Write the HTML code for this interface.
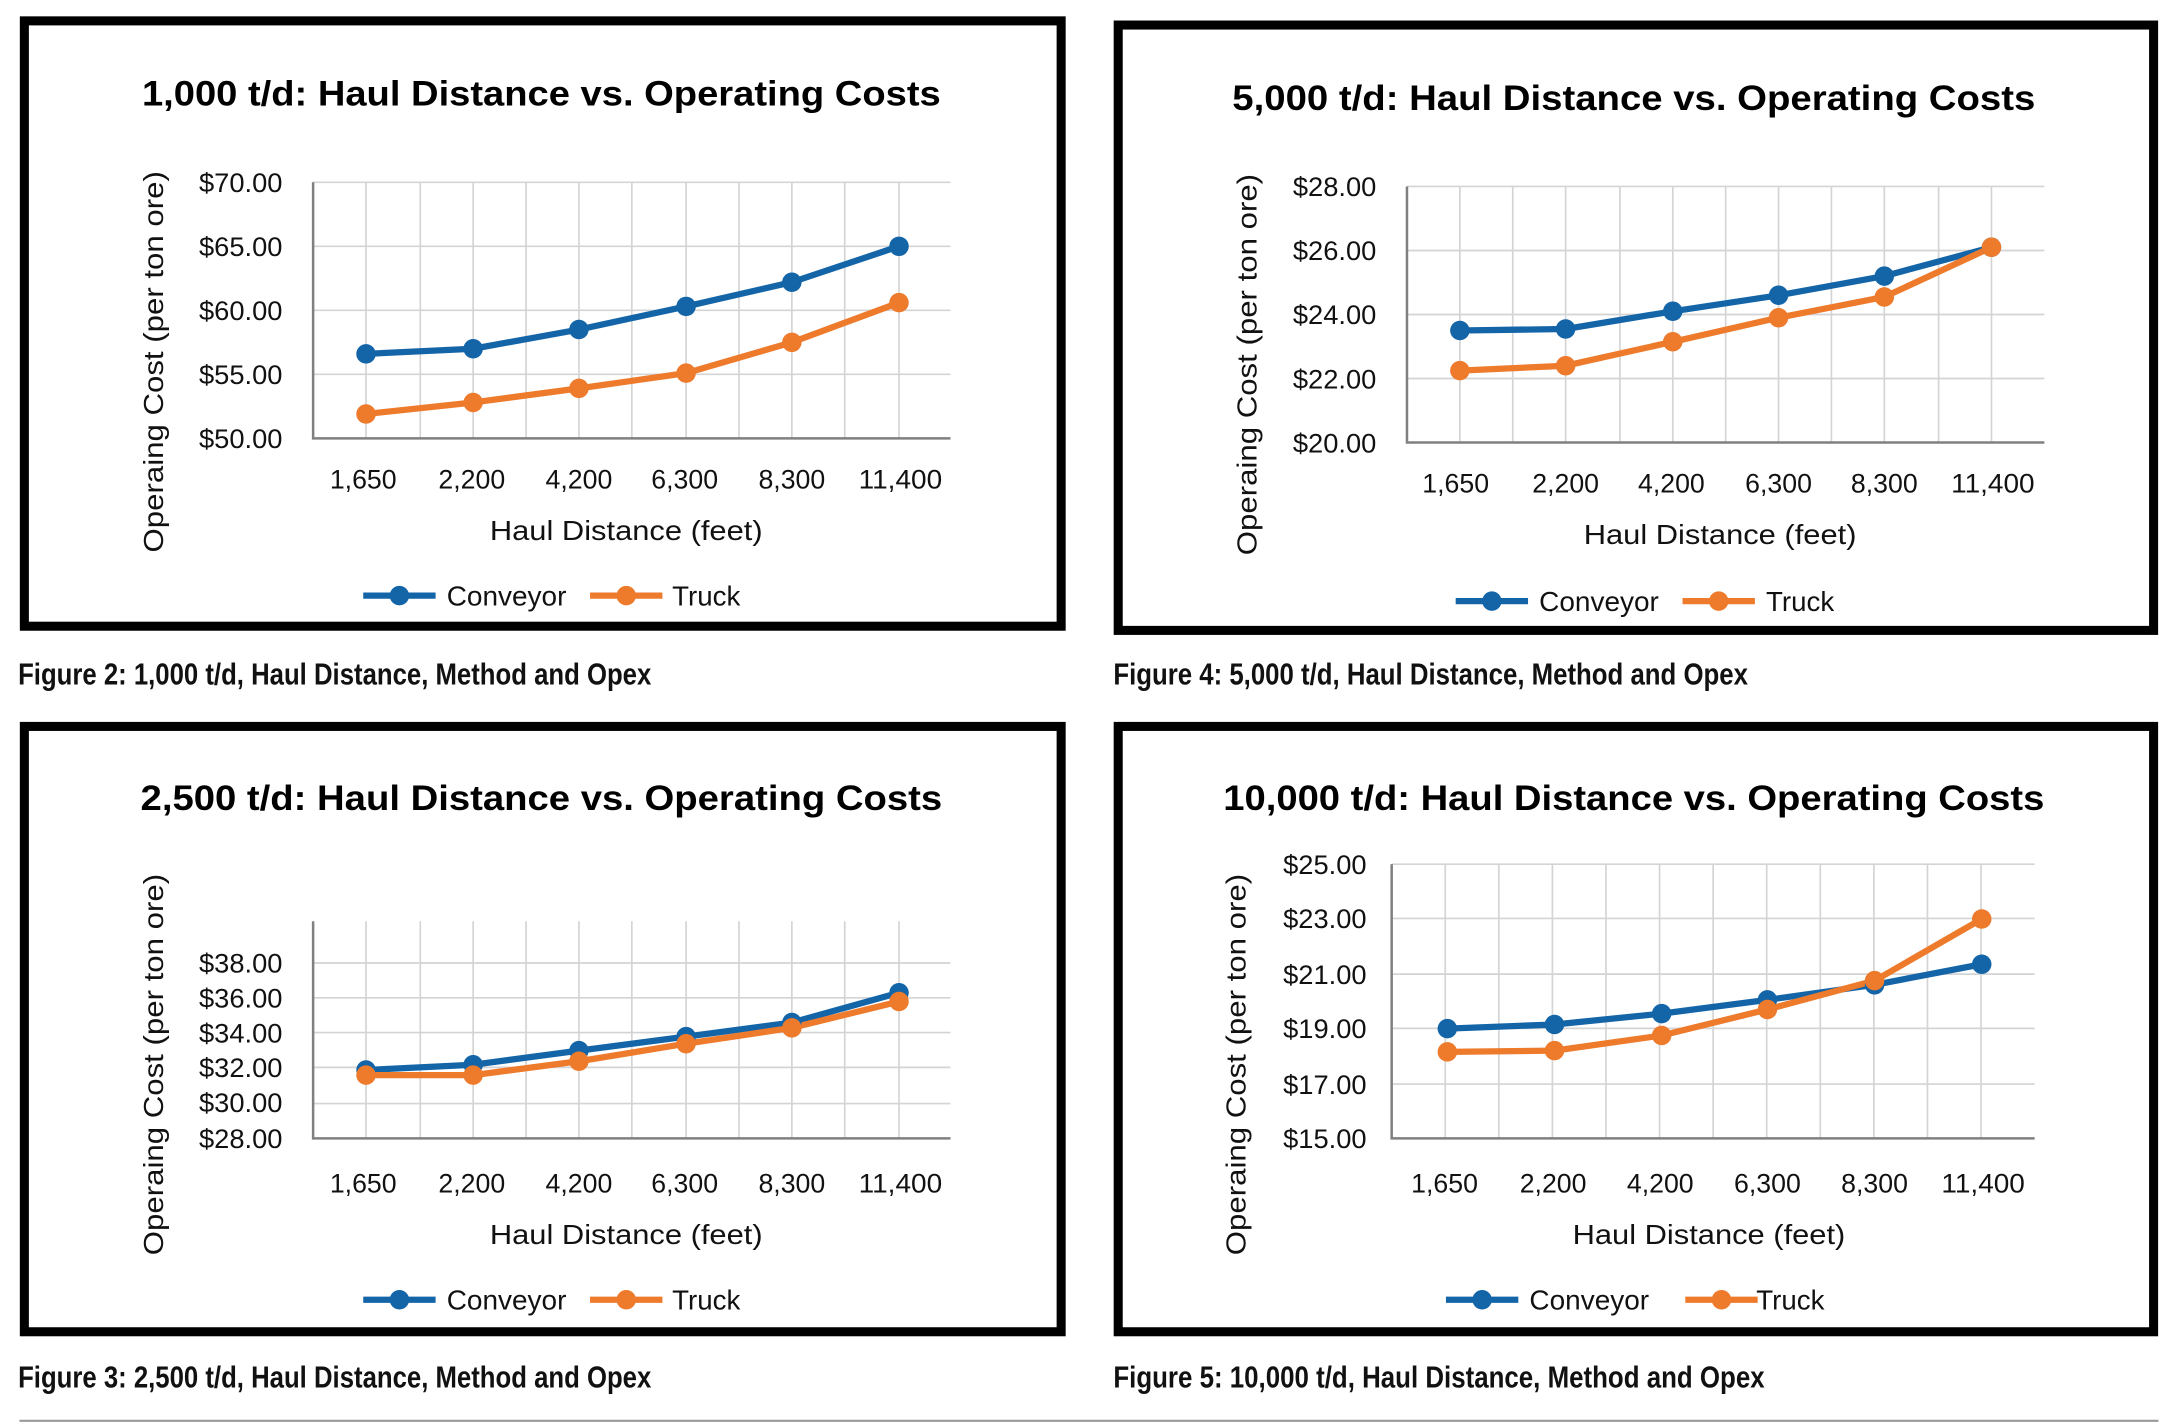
<!DOCTYPE html>
<html><head><meta charset="utf-8">
<style>
html,body{margin:0;padding:0;background:#fff;}
svg{display:block;}
.t{font-family:"Liberation Sans",sans-serif;font-weight:bold;font-size:25px;fill:#000;}
.k{font-family:"Liberation Sans",sans-serif;font-size:19px;fill:#111;}
.a{font-family:"Liberation Sans",sans-serif;font-size:20px;fill:#111;}
.c{font-family:"Liberation Sans",sans-serif;font-weight:bold;font-size:22px;fill:#111;}
.g{stroke:#d4d4d4;stroke-width:1.2;fill:none;}
.ax{stroke:#808080;stroke-width:1.8;fill:none;}
.b{stroke:#1465a8;stroke-width:4.5;fill:none;stroke-linejoin:round;}
.o{stroke:#ee7a2b;stroke-width:4.5;fill:none;stroke-linejoin:round;}
.bm{fill:#1465a8;}
.om{fill:#ee7a2b;}
.f{fill:none;stroke:#000;stroke-width:6.5;}
</style></head><body>
<svg width="2171" height="1425" viewBox="0 0 1560 1024" preserveAspectRatio="none" xmlns="http://www.w3.org/2000/svg">
<rect x="0" y="0" width="1560" height="1024" fill="#fff"/>

<!-- ===== Chart 1 ===== -->
<rect class="f" x="17.5" y="15" width="745" height="435"/>
<text class="t" x="389" y="76" text-anchor="middle" textLength="574" lengthAdjust="spacingAndGlyphs">1,000 t/d: Haul Distance vs. Operating Costs</text>
<g class="g">
<path d="M225 131H683M225 177H683M225 223H683M225 269H683"/>
<path d="M263 131V315M302 131V315M340 131V315M378 131V315M416 131V315M454 131V315M493 131V315M531 131V315M569 131V315M607 131V315M646 131V315"/>
</g>
<path class="ax" d="M225 131V315H683"/>
<g class="k" text-anchor="end" lengthAdjust="spacingAndGlyphs">
<text x="203" y="138" textLength="60" lengthAdjust="spacingAndGlyphs">$70.00</text><text x="203" y="184" textLength="60" lengthAdjust="spacingAndGlyphs">$65.00</text><text x="203" y="230" textLength="60" lengthAdjust="spacingAndGlyphs">$60.00</text><text x="203" y="276" textLength="60" lengthAdjust="spacingAndGlyphs">$55.00</text><text x="203" y="322" textLength="60" lengthAdjust="spacingAndGlyphs">$50.00</text>
</g>
<g class="k" text-anchor="middle">
<text x="261" y="351" textLength="48" lengthAdjust="spacingAndGlyphs">1,650</text><text x="339" y="351" textLength="48" lengthAdjust="spacingAndGlyphs">2,200</text><text x="416" y="351" textLength="48" lengthAdjust="spacingAndGlyphs">4,200</text><text x="492" y="351" textLength="48" lengthAdjust="spacingAndGlyphs">6,300</text><text x="569" y="351" textLength="48" lengthAdjust="spacingAndGlyphs">8,300</text><text x="647" y="351" textLength="60" lengthAdjust="spacingAndGlyphs">11,400</text>
</g>
<text class="a" x="450" y="388" text-anchor="middle" textLength="196" lengthAdjust="spacingAndGlyphs">Haul Distance (feet)</text>
<text class="a" transform="translate(117,260) rotate(-90)" text-anchor="middle" textLength="274" lengthAdjust="spacingAndGlyphs">Operaing Cost (per ton ore)</text>
<polyline class="b" points="263,254.3 340,250.6 416,236.8 493,220.2 569,202.8 646,177"/>
<polyline class="o" points="263,297.5 340,289.2 416,279.1 493,268.1 569,246 646,217.5"/>
<g class="bm"><circle cx="263" cy="254.3" r="7"/><circle cx="340" cy="250.6" r="7"/><circle cx="416" cy="236.8" r="7"/><circle cx="493" cy="220.2" r="7"/><circle cx="569" cy="202.8" r="7"/><circle cx="646" cy="177" r="7"/></g>
<g class="om"><circle cx="263" cy="297.5" r="7"/><circle cx="340" cy="289.2" r="7"/><circle cx="416" cy="279.1" r="7"/><circle cx="493" cy="268.1" r="7"/><circle cx="569" cy="246" r="7"/><circle cx="646" cy="217.5" r="7"/></g>
<path class="b" d="M261 428H313"/><circle class="bm" cx="287" cy="428" r="7"/>
<text class="a" x="321" y="435" textLength="86" lengthAdjust="spacingAndGlyphs">Conveyor</text>
<path class="o" d="M424 428H476"/><circle class="om" cx="450" cy="428" r="7"/>
<text class="a" x="483" y="435" textLength="49" lengthAdjust="spacingAndGlyphs">Truck</text>
<text class="c" x="13" y="492" textLength="455" lengthAdjust="spacingAndGlyphs">Figure 2: 1,000 t/d, Haul Distance, Method and Opex</text>

<!-- ===== Chart 2 (5,000) ===== -->
<rect class="f" x="803.5" y="18" width="744" height="435"/>
<text class="t" x="1174" y="79" text-anchor="middle" textLength="577" lengthAdjust="spacingAndGlyphs">5,000 t/d: Haul Distance vs. Operating Costs</text>
<g class="g">
<path d="M1011 134H1469M1011 180H1469M1011 226H1469M1011 272H1469"/>
<path d="M1049 134V318M1087 134V318M1125 134V318M1164 134V318M1202 134V318M1240 134V318M1278 134V318M1316 134V318M1354 134V318M1393 134V318M1431 134V318"/>
</g>
<path class="ax" d="M1011 134V318H1469"/>
<g class="k" text-anchor="end">
<text x="989" y="141" textLength="60" lengthAdjust="spacingAndGlyphs">$28.00</text><text x="989" y="187" textLength="60" lengthAdjust="spacingAndGlyphs">$26.00</text><text x="989" y="233" textLength="60" lengthAdjust="spacingAndGlyphs">$24.00</text><text x="989" y="279" textLength="60" lengthAdjust="spacingAndGlyphs">$22.00</text><text x="989" y="325" textLength="60" lengthAdjust="spacingAndGlyphs">$20.00</text>
</g>
<g class="k" text-anchor="middle">
<text x="1046" y="354" textLength="48" lengthAdjust="spacingAndGlyphs">1,650</text><text x="1125" y="354" textLength="48" lengthAdjust="spacingAndGlyphs">2,200</text><text x="1201" y="354" textLength="48" lengthAdjust="spacingAndGlyphs">4,200</text><text x="1278" y="354" textLength="48" lengthAdjust="spacingAndGlyphs">6,300</text><text x="1354" y="354" textLength="48" lengthAdjust="spacingAndGlyphs">8,300</text><text x="1432" y="354" textLength="60" lengthAdjust="spacingAndGlyphs">11,400</text>
</g>
<text class="a" x="1236" y="391" text-anchor="middle" textLength="196" lengthAdjust="spacingAndGlyphs">Haul Distance (feet)</text>
<text class="a" transform="translate(903,262) rotate(-90)" text-anchor="middle" textLength="274" lengthAdjust="spacingAndGlyphs">Operaing Cost (per ton ore)</text>
<polyline class="b" points="1049,237.5 1125,236.4 1202,223.7 1278,212.2 1354,198.4 1431,177.7"/>
<polyline class="o" points="1049,266.3 1125,262.8 1202,245.6 1278,228.3 1354,213.4 1431,177.7"/>
<g class="bm"><circle cx="1049" cy="237.5" r="7"/><circle cx="1125" cy="236.4" r="7"/><circle cx="1202" cy="223.7" r="7"/><circle cx="1278" cy="212.2" r="7"/><circle cx="1354" cy="198.4" r="7"/><circle cx="1431" cy="177.7" r="7"/></g>
<g class="om"><circle cx="1049" cy="266.3" r="7"/><circle cx="1125" cy="262.8" r="7"/><circle cx="1202" cy="245.6" r="7"/><circle cx="1278" cy="228.3" r="7"/><circle cx="1354" cy="213.4" r="7"/><circle cx="1431" cy="177.7" r="7"/></g>
<path class="b" d="M1046 432H1098"/><circle class="bm" cx="1072" cy="432" r="7"/>
<text class="a" x="1106" y="439" textLength="86" lengthAdjust="spacingAndGlyphs">Conveyor</text>
<path class="o" d="M1209 432H1261"/><circle class="om" cx="1235" cy="432" r="7"/>
<text class="a" x="1269" y="439" textLength="49" lengthAdjust="spacingAndGlyphs">Truck</text>
<text class="c" x="800" y="492" textLength="456" lengthAdjust="spacingAndGlyphs">Figure 4: 5,000 t/d, Haul Distance, Method and Opex</text>

<!-- ===== Chart 3 (2,500) ===== -->
<rect class="f" x="17.5" y="522" width="745" height="435"/>
<text class="t" x="389" y="582" text-anchor="middle" textLength="576" lengthAdjust="spacingAndGlyphs">2,500 t/d: Haul Distance vs. Operating Costs</text>
<g class="g">
<path d="M225 692H683M225 717H683M225 742H683M225 767H683M225 793H683"/>
<path d="M263 662V818M302 662V818M340 662V818M378 662V818M416 662V818M454 662V818M493 662V818M531 662V818M569 662V818M607 662V818M646 662V818"/>
</g>
<path class="ax" d="M225 662V818H683"/>
<g class="k" text-anchor="end">
<text x="203" y="699" textLength="60" lengthAdjust="spacingAndGlyphs">$38.00</text><text x="203" y="724" textLength="60" lengthAdjust="spacingAndGlyphs">$36.00</text><text x="203" y="749" textLength="60" lengthAdjust="spacingAndGlyphs">$34.00</text><text x="203" y="774" textLength="60" lengthAdjust="spacingAndGlyphs">$32.00</text><text x="203" y="799" textLength="60" lengthAdjust="spacingAndGlyphs">$30.00</text><text x="203" y="825" textLength="60" lengthAdjust="spacingAndGlyphs">$28.00</text>
</g>
<g class="k" text-anchor="middle">
<text x="261" y="857" textLength="48" lengthAdjust="spacingAndGlyphs">1,650</text><text x="339" y="857" textLength="48" lengthAdjust="spacingAndGlyphs">2,200</text><text x="416" y="857" textLength="48" lengthAdjust="spacingAndGlyphs">4,200</text><text x="492" y="857" textLength="48" lengthAdjust="spacingAndGlyphs">6,300</text><text x="569" y="857" textLength="48" lengthAdjust="spacingAndGlyphs">8,300</text><text x="647" y="857" textLength="60" lengthAdjust="spacingAndGlyphs">11,400</text>
</g>
<text class="a" x="450" y="894" text-anchor="middle" textLength="196" lengthAdjust="spacingAndGlyphs">Haul Distance (feet)</text>
<text class="a" transform="translate(117,765) rotate(-90)" text-anchor="middle" textLength="274" lengthAdjust="spacingAndGlyphs">Operaing Cost (per ton ore)</text>
<polyline class="b" points="263,768.9 340,765.1 416,755 493,744.9 569,734.8 646,713.4"/>
<polyline class="o" points="263,772.6 340,772.6 416,762.6 493,750 569,738.6 646,719.7"/>
<g class="bm"><circle cx="263" cy="768.9" r="7"/><circle cx="340" cy="765.1" r="7"/><circle cx="416" cy="755" r="7"/><circle cx="493" cy="744.9" r="7"/><circle cx="569" cy="734.8" r="7"/><circle cx="646" cy="713.4" r="7"/></g>
<g class="om"><circle cx="263" cy="772.6" r="7"/><circle cx="340" cy="772.6" r="7"/><circle cx="416" cy="762.6" r="7"/><circle cx="493" cy="750" r="7"/><circle cx="569" cy="738.6" r="7"/><circle cx="646" cy="719.7" r="7"/></g>
<path class="b" d="M261 934H313"/><circle class="bm" cx="287" cy="934" r="7"/>
<text class="a" x="321" y="941" textLength="86" lengthAdjust="spacingAndGlyphs">Conveyor</text>
<path class="o" d="M424 934H476"/><circle class="om" cx="450" cy="934" r="7"/>
<text class="a" x="483" y="941" textLength="49" lengthAdjust="spacingAndGlyphs">Truck</text>
<text class="c" x="13" y="997" textLength="455" lengthAdjust="spacingAndGlyphs">Figure 3: 2,500 t/d, Haul Distance, Method and Opex</text>

<!-- ===== Chart 4 (10,000) ===== -->
<rect class="f" x="803.5" y="522" width="744" height="435"/>
<text class="t" x="1174" y="582" text-anchor="middle" textLength="590" lengthAdjust="spacingAndGlyphs">10,000 t/d: Haul Distance vs. Operating Costs</text>
<g class="g">
<path d="M1000 621H1462M1000 660H1462M1000 700H1462M1000 739H1462M1000 779H1462"/>
<path d="M1038.5 621V818M1077 621V818M1115.5 621V818M1154 621V818M1192.5 621V818M1231 621V818M1269.5 621V818M1308 621V818M1346.5 621V818M1385 621V818M1423.5 621V818"/>
</g>
<path class="ax" d="M1000 621V818H1462"/>
<g class="k" text-anchor="end">
<text x="982" y="628" textLength="60" lengthAdjust="spacingAndGlyphs">$25.00</text><text x="982" y="667" textLength="60" lengthAdjust="spacingAndGlyphs">$23.00</text><text x="982" y="707" textLength="60" lengthAdjust="spacingAndGlyphs">$21.00</text><text x="982" y="746" textLength="60" lengthAdjust="spacingAndGlyphs">$19.00</text><text x="982" y="786" textLength="60" lengthAdjust="spacingAndGlyphs">$17.00</text><text x="982" y="825" textLength="60" lengthAdjust="spacingAndGlyphs">$15.00</text>
</g>
<g class="k" text-anchor="middle">
<text x="1038" y="857" textLength="48" lengthAdjust="spacingAndGlyphs">1,650</text><text x="1116" y="857" textLength="48" lengthAdjust="spacingAndGlyphs">2,200</text><text x="1193" y="857" textLength="48" lengthAdjust="spacingAndGlyphs">4,200</text><text x="1270" y="857" textLength="48" lengthAdjust="spacingAndGlyphs">6,300</text><text x="1347" y="857" textLength="48" lengthAdjust="spacingAndGlyphs">8,300</text><text x="1425" y="857" textLength="60" lengthAdjust="spacingAndGlyphs">11,400</text>
</g>
<text class="a" x="1228" y="894" text-anchor="middle" textLength="196" lengthAdjust="spacingAndGlyphs">Haul Distance (feet)</text>
<text class="a" transform="translate(895,765) rotate(-90)" text-anchor="middle" textLength="274" lengthAdjust="spacingAndGlyphs">Operaing Cost (per ton ore)</text>
<polyline class="b" points="1040,739.2 1117,736.2 1194,728.4 1270,718.5 1347,707.7 1424,692.9"/>
<polyline class="o" points="1040,755.9 1117,755 1194,744.1 1270,725.4 1347,704.7 1424,660.4"/>
<g class="bm"><circle cx="1040" cy="739.2" r="7"/><circle cx="1117" cy="736.2" r="7"/><circle cx="1194" cy="728.4" r="7"/><circle cx="1270" cy="718.5" r="7"/><circle cx="1347" cy="707.7" r="7"/><circle cx="1424" cy="692.9" r="7"/></g>
<g class="om"><circle cx="1040" cy="755.9" r="7"/><circle cx="1117" cy="755" r="7"/><circle cx="1194" cy="744.1" r="7"/><circle cx="1270" cy="725.4" r="7"/><circle cx="1347" cy="704.7" r="7"/><circle cx="1424" cy="660.4" r="7"/></g>
<path class="b" d="M1039 934H1091"/><circle class="bm" cx="1065" cy="934" r="7"/>
<text class="a" x="1099" y="941" textLength="86" lengthAdjust="spacingAndGlyphs">Conveyor</text>
<path class="o" d="M1211 934H1263"/><circle class="om" cx="1237" cy="934" r="7"/>
<text class="a" x="1262" y="941" textLength="49" lengthAdjust="spacingAndGlyphs">Truck</text>
<text class="c" x="800" y="997" textLength="468" lengthAdjust="spacingAndGlyphs">Figure 5: 10,000 t/d, Haul Distance, Method and Opex</text>

<path d="M14 1021H1551" stroke="#9a9a9a" stroke-width="1.5"/>
</svg>
</body></html>
